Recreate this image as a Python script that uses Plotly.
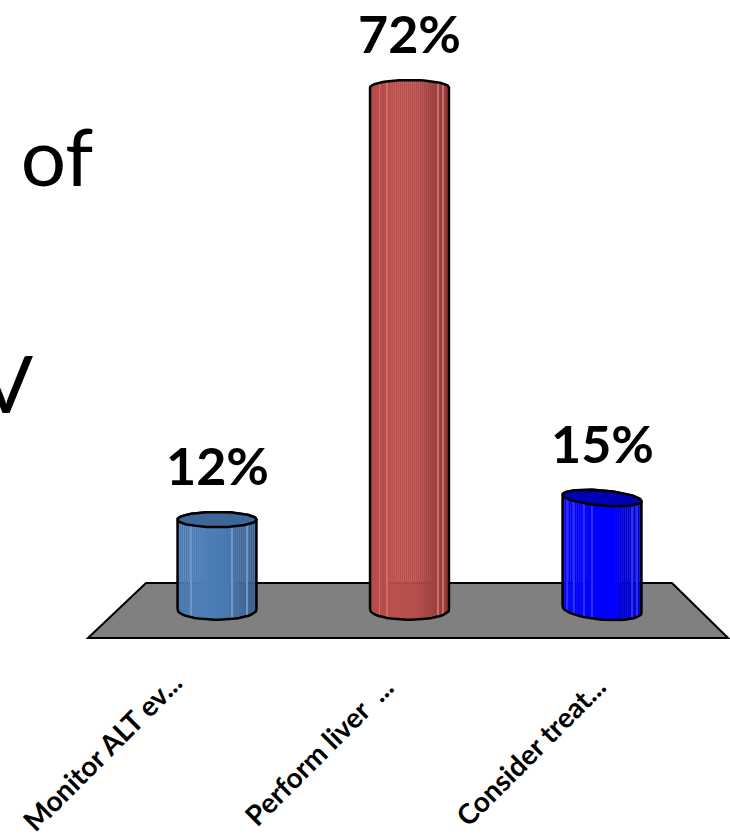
import numpy as np
import plotly.graph_objects as go

categories = ["Monitor ALT ev...", "Perform liver  ...", "Consider treat..."]
values = [12, 72, 15]
value_labels = ["12%", "72%", "15%"]

base_colors = [(79, 129, 189), (192, 80, 77), (0, 0, 255)]
top_colors = ["#3C6797", "#B4504D", "#0000B4"]
closed_top = [True, False, True]
tilt = [0.0, 0.0, -0.45]
highlights = [[-0.66, 0.38, 0.76], [-0.76, -0.58, 0.72, 0.86], [-0.88, -0.72, -0.45, -0.25, 0.75, 0.88]]
label_xshift = [-115, -91, -72]

X_PX0, X_STEP = 217.0, 192.5
Y_PX0, Y_STEP = 606.0, 7.2
HALF = 0.205
TOP_E, BOT_E, BASE = 1.05, 1.4, -0.5
N = 40
W, H = 730, 835

def shade(rgb, t):
    f = 0.93 + 0.05 * np.cos((t + 0.35) * 2.2) - 0.14 * max(t - 0.2, 0) / 0.8
    return "rgb(%d,%d,%d)" % tuple(min(255, int(c * f)) for c in rgb)

def blue_fix(i, rgb, t):
    return "rgb(0,0,255)" if i == 2 and t < 0.4 else shade(rgb, t)

def lighten(rgb, a=0.18):
    return "rgb(%d,%d,%d)" % tuple(int(c + (255 - c) * a) for c in rgb)

fig = go.Figure()
pos = np.arange(len(values))
edges = np.linspace(-1, 1, N + 1)
for i0 in range(N):
    t = (edges[i0] + edges[i0 + 1]) / 2
    arc = np.sqrt(1 - t * t)
    bases, heights, cols = [], [], []
    for i, v in enumerate(values):
        b = BASE - BOT_E * arc + tilt[i] * t
        top = v + (-TOP_E * arc if closed_top[i] else TOP_E * arc) + tilt[i] * t
        bases.append(b)
        heights.append(top - b)
        cols.append(blue_fix(i, base_colors[i], t))
    fig.add_trace(go.Bar(x=pos + HALF * t, y=heights, base=bases, width=2 * HALF / N * 1.15,
                         marker=dict(color=cols, line=dict(width=0)), hoverinfo="skip", showlegend=False))

for i, v in enumerate(values):
    for h in highlights[i]:
        arc = np.sqrt(1 - h * h)
        b = BASE - BOT_E * arc + tilt[i] * h
        top = v + (-TOP_E * arc if closed_top[i] else TOP_E * arc) + tilt[i] * h
        fig.add_trace(go.Bar(x=[i + HALF * h], y=[top - b], base=[b], width=0.005,
                             marker=dict(color=lighten(base_colors[i]), line=dict(width=0)),
                             hoverinfo="skip", showlegend=False))

th = np.linspace(0, np.pi, 30)
for i, v in enumerate(values):
    tt = -np.cos(th)
    bx = i + HALF * tt
    by = BASE - BOT_E * np.sin(th) + tilt[i] * tt
    ux = i + HALF * tt[::-1]
    uy = v + TOP_E * np.sin(th[::-1]) + tilt[i] * tt[::-1]
    fig.add_trace(go.Scatter(x=np.r_[bx, ux, bx[0]], y=np.r_[by, uy, by[0]], mode="lines",
                             line=dict(color="black", width=2.5), hoverinfo="skip", showlegend=False))
    if closed_top[i]:
        ex = i + HALF * np.r_[tt, tt[::-1]]
        ey = v + np.r_[-TOP_E * np.sin(th) + tilt[i] * tt, TOP_E * np.sin(th[::-1]) + tilt[i] * tt[::-1]]
        fig.add_trace(go.Scatter(x=ex, y=ey, mode="lines", fill="toself", fillcolor=top_colors[i],
                                 line=dict(color="black", width=2.5), hoverinfo="skip", showlegend=False))

annotations = []
for i, (v, s) in enumerate(zip(values, value_labels)):
    annotations.append(dict(x=i, y=v, xref="x", yref="y", text=s, showarrow=False, yshift=55,
                            font=dict(family="Lato", size=52, color="black", weight="bold"),
                            xanchor="center", yanchor="middle"))
for i, c in enumerate(categories):
    annotations.append(dict(x=i, y=1 - 751 / H, xref="x", yref="paper", text=c, showarrow=False,
                            xshift=label_xshift[i], textangle=-45,
                            font=dict(family="Lato", size=28, color="black", weight="bold"),
                            xanchor="center", yanchor="middle"))
for txt, px, py in [("e of", 95, 155), ("V", 35, 382)]:
    annotations.append(dict(x=px / W, y=1 - py / H, xref="paper", yref="paper", text=txt, showarrow=False,
                            font=dict(family="Lato", size=80, color="black"),
                            xanchor="right", yanchor="middle"))

fig.update_layout(
    width=W, height=H, autosize=False,
    margin=dict(l=0, r=0, t=0, b=0),
    paper_bgcolor="white", plot_bgcolor="white",
    barmode="overlay", showlegend=False,
    xaxis=dict(range=[-X_PX0 / X_STEP, (W - X_PX0) / X_STEP], visible=False, fixedrange=True),
    yaxis=dict(range=[(Y_PX0 - H) / Y_STEP, Y_PX0 / Y_STEP], visible=False, fixedrange=True),
    annotations=annotations,
    shapes=[dict(type="path", xref="paper", yref="paper", layer="below",
                 path="M %f %f L %f %f L %f %f L %f %f Z" % (88 / W, 1 - 638 / H, 146 / W, 1 - 583 / H,
                                                             672 / W, 1 - 583 / H, 728 / W, 1 - 638 / H),
                 fillcolor="#808080", line=dict(color="black", width=2))],
)
fig.write_html("out.html", config=dict(displayModeBar=False),
               post_script="document.body.style.margin='0';document.body.style.overflow='hidden';")
